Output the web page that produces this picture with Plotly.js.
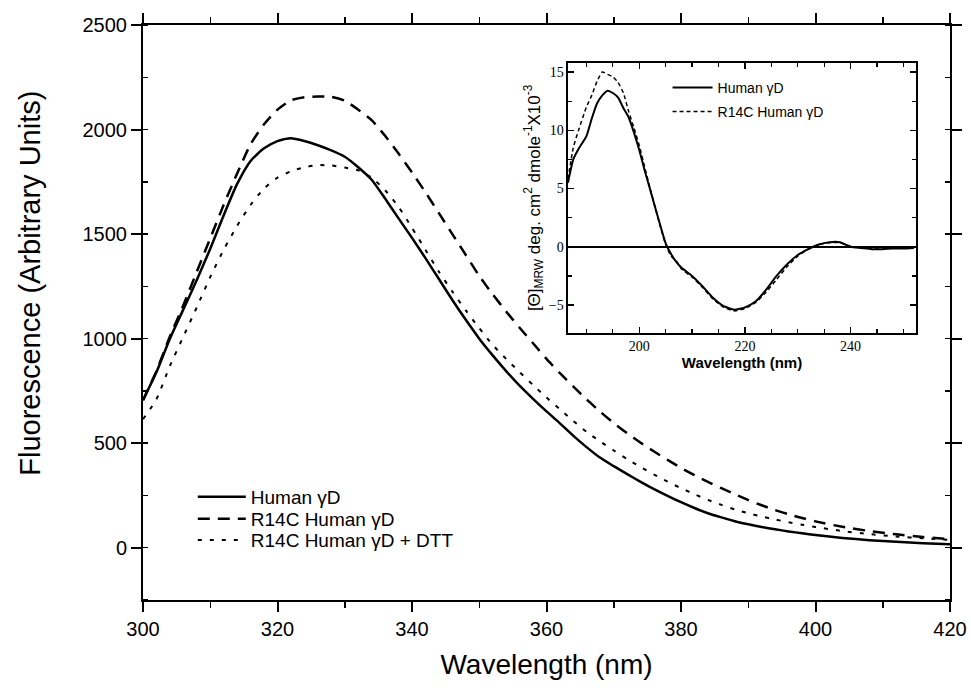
<!DOCTYPE html>
<html>
<head>
<meta charset="utf-8">
<script src="https://cdn.plot.ly/plotly-3.0.1.min.js"></script>
<style>html,body{margin:0;padding:0;background:#fff;}#chart{width:971px;height:688px;}</style>
</head>
<body>
<div id="chart"></div>
<script>
// ---- Main fluorescence emission spectra ----
const wavelength = [300,302,304,306,308,310,312,314,316,318,320,322,324,326,328,330,332,334,336,338,340,342,344,346,348,350,352,354,356,358,360,362,364,366,368,370,372,374,376,378,380,382,384,386,388,390,392,394,396,398,400,404,408,412,416,420];
const humanGD = [705,840,1000,1140,1280,1430,1590,1740,1850,1910,1945,1958,1945,1925,1900,1870,1820,1760,1670,1575,1482,1385,1285,1185,1090,1000,920,845,775,712,652,595,535,480,430,390,352,315,280,248,218,190,165,145,127,112,99,88,78,69,61,47,36,28,22,17];
const r14cGD = [705,845,1010,1160,1320,1480,1640,1790,1930,2025,2095,2140,2155,2158,2156,2138,2095,2045,1970,1885,1795,1700,1600,1500,1400,1300,1212,1130,1052,978,903,835,770,708,650,596,547,502,460,420,382,347,315,285,256,228,203,180,160,142,126,100,80,64,51,41];
const r14cDTT = [615,710,870,1010,1150,1295,1425,1540,1640,1718,1770,1800,1820,1830,1828,1818,1805,1770,1710,1630,1530,1425,1320,1225,1135,1050,970,903,840,778,718,662,606,553,508,465,424,386,350,316,285,256,229,205,183,165,149,135,122,110,99,80,65,54,45,37];

// ---- Inset: far-UV CD spectra ----
const cdWavelength = [186.5,187.5,188.5,190,191,192,193,194,195,196,197,198,199,200,201,202,203,204,205,206,207,208,210,212,214,216,218,220,222,224,226,228,230,232,234,236,238,240,242,244,246,248,250,252];
const cdHuman = [5.5,7.5,8.4,9.5,11.0,12.3,13.0,13.4,13.2,12.8,11.9,11.1,9.8,8.3,6.6,5.0,3.4,1.8,0.3,-0.6,-1.3,-1.8,-2.5,-3.4,-4.4,-5.1,-5.4,-5.2,-4.7,-3.7,-2.5,-1.5,-0.7,-0.2,0.2,0.4,0.4,0.0,-0.1,-0.2,-0.2,-0.15,-0.15,-0.1];
const cdR14C = [5.8,8.5,10.0,12.0,13.0,14.2,15.0,14.8,14.6,14.1,13.2,11.6,10.2,8.7,6.9,5.1,3.4,1.7,0.2,-0.8,-1.2,-1.9,-2.6,-3.5,-4.5,-5.2,-5.5,-5.3,-4.8,-3.9,-2.8,-1.7,-0.8,-0.2,0.2,0.35,0.35,0.05,-0.05,-0.1,-0.1,0.0,-0.05,0.0];

const seriesNames = ['Human \u03b3D','R14C Human \u03b3D','R14C Human \u03b3D + DTT'];
const yTitle = 'Fluorescence (Arbitrary Units)';

const SANS = 'Liberation Sans, Arial, sans-serif';
const SERIF = 'Liberation Serif, Times New Roman, serif';

const traces = [
  {x: wavelength, y: humanGD, name: seriesNames[0], mode:'lines', line:{color:'#000', width:2.5, shape:'spline', smoothing:0.6}, xaxis:'x', yaxis:'y', legend:'legend'},
  {x: wavelength, y: r14cGD, name: seriesNames[1], mode:'lines', line:{color:'#000', width:2.5, dash:'12px,8px', shape:'spline', smoothing:0.6}, xaxis:'x', yaxis:'y', legend:'legend3'},
  {x: wavelength, y: r14cDTT, name: seriesNames[2], mode:'lines', line:{color:'#000', width:2, dash:'4px,8px', shape:'spline', smoothing:0.6}, xaxis:'x', yaxis:'y', legend:'legend4'},
  {x: cdWavelength, y: cdHuman, name: seriesNames[0], mode:'lines', line:{color:'#000', width:2, shape:'spline', smoothing:0.5}, xaxis:'x2', yaxis:'y2', legend:'legend2'},
  {x: cdWavelength, y: cdR14C, name: seriesNames[1], mode:'lines', line:{color:'#000', width:1.5, dash:'4px,3px', shape:'spline', smoothing:0.5}, xaxis:'x2', yaxis:'y2', legend:'legend5'}
];

function leg(x, y, size){
  return {x:x, y:y, xanchor:'left', yanchor:'middle', bgcolor:'rgba(0,0,0,0)', borderwidth:0,
          font:{family:SANS, size:size, color:'#000'}, itemwidth:size > 16 ? 48 : 40, tracegroupgap:0};
}

const layout = {
  width: 971, height: 688,
  margin: {l:142.5, r:21, t:25, b:88},
  paper_bgcolor:'#fff', plot_bgcolor:'#fff',
  font: {family: SANS, color:'#000'},
  showlegend: true,
  xaxis: {
    domain:[0,1], anchor:'y', range:[300,420], tick0:300, dtick:20,
    ticks:'outside', ticklen:10, tickwidth:2, tickcolor:'#000', mirror:'allticks',
    minor:{dtick:10, ticks:'outside', ticklen:6, tickwidth:1.5, tickcolor:'#000'},
    showline:true, linewidth:2, linecolor:'#000', showgrid:false, zeroline:false,
    tickfont:{family:SANS, size:20, color:'#000'},
    title:{text:'Wavelength (nm)', font:{family:SANS, size:28, color:'#000'}, standoff:15}
  },
  yaxis: {
    domain:[0,1], anchor:'x', range:[-250,2500], tick0:0, dtick:500,
    ticks:'outside', ticklen:10, tickwidth:2, tickcolor:'#000', mirror:'allticks',
    minor:{dtick:250, ticks:'inside', ticklen:5, tickwidth:1.5, tickcolor:'#000'},
    showline:true, linewidth:2, linecolor:'#000', showgrid:false, zeroline:false,
    tickfont:{family:SANS, size:20, color:'#000'}
  },
  xaxis2: {
    domain:[0.5266,0.9579], anchor:'y2', range:[186.5,252.4], tick0:200, dtick:20,
    ticks:'inside', ticklen:6, tickwidth:1.5, tickcolor:'#000', mirror:'allticks',
    minor:{dtick:5, ticks:'inside', ticklen:4, tickwidth:1.2, tickcolor:'#000'},
    showline:true, linewidth:1.5, linecolor:'#000', showgrid:false, zeroline:false,
    tickfont:{family:SERIF, size:14, color:'#000'},
    title:{text:'<b>Wavelength (nm)</b>', font:{family:SANS, size:15, color:'#000'}, standoff:2}
  },
  yaxis2: {
    domain:[0.4643,0.9344], anchor:'x2', range:[-7.4,15.8], tick0:0, dtick:5,
    ticks:'inside', ticklen:6, tickwidth:1.5, tickcolor:'#000', mirror:'allticks',
    minor:{dtick:2.5, ticks:'inside', ticklen:4, tickwidth:1.2, tickcolor:'#000'},
    showline:true, linewidth:1.5, linecolor:'#000', showgrid:false,
    zeroline:true, zerolinecolor:'#000', zerolinewidth:1.5,
    tickfont:{family:SERIF, size:14, color:'#000'},
    title:{text:'[\u0398]<sub>MRW</sub> deg. cm<sup>2</sup> dmole<sup>-1</sup>X10<sup>-3</sup>', font:{family:SANS, size:17, color:'#000'}, standoff:4}
  },
  legend: leg(0.0617, 0.1791, 19),
  legend3: leg(0.0617, 0.1409, 19),
  legend4: leg(0.0617, 0.1043, 19),
  legend2: leg(0.65, 0.8904, 14),
  legend5: leg(0.65, 0.8487, 14),
  annotations: [
    {text: yTitle, xref:'paper', yref:'paper', x:-0.1393, y:0.551, xanchor:'center', yanchor:'middle',
     textangle:-90, showarrow:false, font:{family:SANS, size:29, color:'#000'}}
  ]
};

Plotly.newPlot('chart', traces, layout, {displayModeBar:false, staticPlot:true});
</script>
</body>
</html>
